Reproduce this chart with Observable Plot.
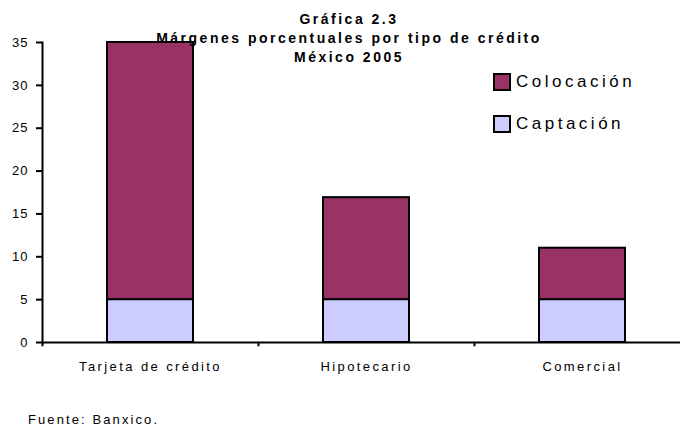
<!DOCTYPE html>
<html>
<head>
<meta charset="utf-8">
<script src="https://cdn.jsdelivr.net/npm/d3@7"></script>
<script src="https://cdn.jsdelivr.net/npm/@observablehq/plot@0.6"></script>
<style>
  body { margin: 0; background: #fff; font-family: Arial, "Liberation Sans", sans-serif; color: #000; }
  #wrap { position: relative; width: 680px; height: 427px; overflow: hidden; }
  #wrap svg { position: absolute; left: 0; top: 0; }
  .title {
    position: absolute; left: 349px; top: 10px; transform: translateX(-50%);
    font-weight: bold; font-size: 14px; letter-spacing: 2.5px; line-height: 19px;
    text-align: center; white-space: nowrap;
  }
  .legend-item {
    position: absolute; left: 493px; height: 18px; display: flex; align-items: center;
    font-size: 17px; letter-spacing: 3.5px; white-space: nowrap;
  }
  .swatch { width: 14px; height: 14px; border: 2px solid #000; margin-right: 5px; flex: none; }
  .source {
    position: absolute; left: 28px; top: 412px; font-size: 13px; letter-spacing: 2.1px;
    line-height: 15px; white-space: nowrap;
  }
  g[aria-label="x-axis tick label"] { letter-spacing: 2.4px; }
  g[aria-label="y-axis tick label"] { letter-spacing: 1px; }
</style>
</head>
<body>
<div id="wrap"></div>
<script>
// Márgenes porcentuales por tipo de crédito, México 2005
const categories = ["Tarjeta de crédito", "Hipotecario", "Comercial"];
const series = ["Captación", "Colocación"];
const captacion = [5, 5, 5];
const colocacion = [30, 11.9, 6];
const yTicks = [0, 5, 10, 15, 20, 25, 30, 35];
const seriesColors = ["#CCCCFF", "#993366"];
const titleLines = ["Gráfica 2.3", "Márgenes porcentuales por tipo de crédito", "México 2005"];
const legendOrder = ["Colocación", "Captación"];
const sourceNote = "Fuente: Banxico.";

// long table: Captación rows first so they stack at the bottom
const valuesBySeries = [captacion, colocacion];
const rows = series.flatMap((s, j) =>
  categories.map((c, i) => ({ categoria: c, serie: s, valor: valuesBySeries[j][i] }))
);

const xRange = [42, 690];
const step = (xRange[1] - xRange[0]) / categories.length;

const chart = Plot.plot({
  width: 680,
  height: 427,
  marginLeft: 42,
  marginRight: 0,
  marginTop: 42,
  marginBottom: 85,
  style: { fontFamily: 'Arial, "Liberation Sans", sans-serif', color: "#000", background: "transparent" },
  x: { domain: categories, range: xRange, paddingInner: 0.6, paddingOuter: 0.3, label: null },
  y: { domain: [0, 35], label: null },
  color: { domain: series, range: seriesColors },
  marks: [
    Plot.barY(rows, { x: "categoria", y: "valor", fill: "serie", stroke: "#000", strokeWidth: 2 }),
    Plot.ruleY([0], { stroke: "#000", strokeWidth: 2 }),
    Plot.frame({ anchor: "left", stroke: "#000", strokeWidth: 2 }),
    // category boundary ticks below the baseline
    Plot.ruleX(categories, { x: d => d, dx: -step / 2, y1: 0, y2: -0.5, stroke: "#000", strokeWidth: 2 }),
    Plot.axisY({ ticks: yTicks, tickSize: 6, tickPadding: 8, fontSize: 13, strokeWidth: 2, label: null }),
    Plot.axisX({ tickSize: 0, tickPadding: 19, fontSize: 13, label: null })
  ]
});

const wrap = document.getElementById("wrap");
wrap.appendChild(chart);

const title = document.createElement("div");
title.className = "title";
title.innerHTML = titleLines.join("<br>");
wrap.appendChild(title);

legendOrder.forEach((name, k) => {
  const item = document.createElement("div");
  item.className = "legend-item";
  item.style.top = (73 + k * 42) + "px";
  const sw = document.createElement("span");
  sw.className = "swatch";
  sw.style.background = seriesColors[series.indexOf(name)];
  item.appendChild(sw);
  item.appendChild(document.createTextNode(name));
  wrap.appendChild(item);
});

const src = document.createElement("div");
src.className = "source";
src.textContent = sourceNote;
wrap.appendChild(src);
</script>
</body>
</html>
